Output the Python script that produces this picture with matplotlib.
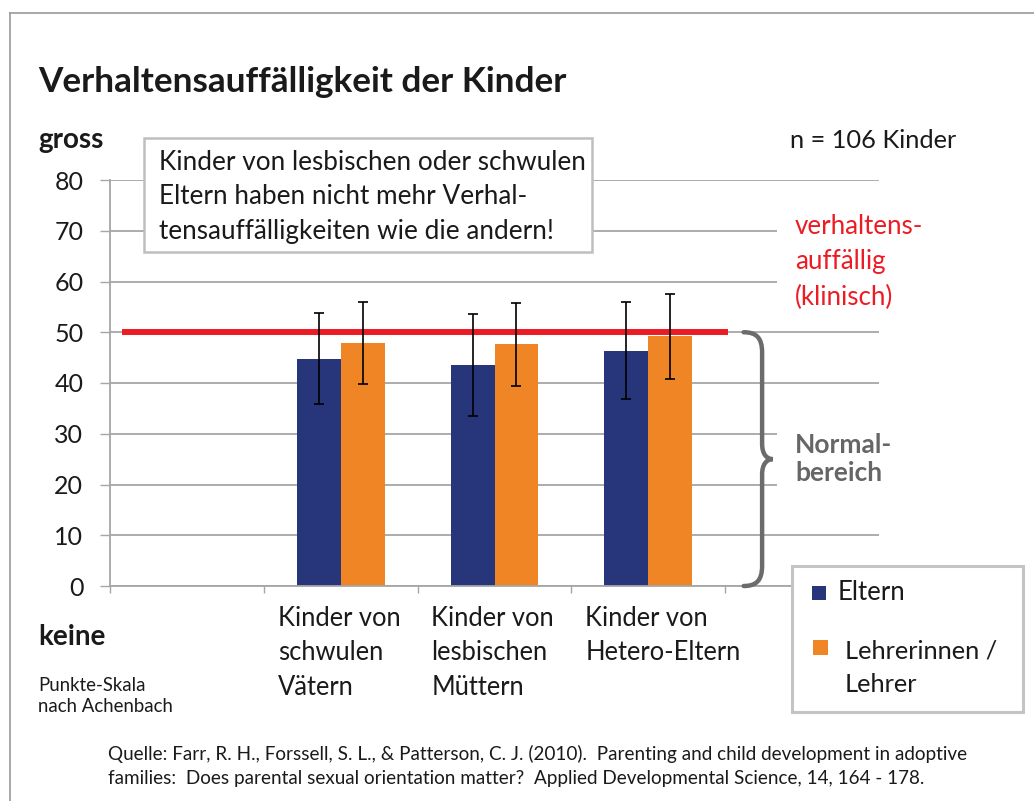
import numpy as np
import matplotlib.pyplot as plt
from matplotlib.patches import Rectangle, PathPatch
from matplotlib.path import Path
from matplotlib.lines import Line2D
from matplotlib.transforms import blended_transform_factory

plt.rcParams['font.family'] = ['Lato', 'DejaVu Sans']

# Daten (Punkte-Skala nach Achenbach)
kategorien = ['', 'Kinder von\nschwulen\nVätern', 'Kinder von\nlesbischen\nMüttern',
              'Kinder von\nHetero-Eltern', '']
eltern = [44.8, 43.5, 46.4]
eltern_err = [9.0, 10.0, 9.5]
lehrer = [47.9, 47.6, 49.2]
lehrer_err = [8.0, 8.2, 8.4]
grenze_klinisch = 50
y_ticks = [0, 10, 20, 30, 40, 50, 60, 70, 80]

NAVY = '#27367a'
ORANGE = '#f08526'
ROT = '#ed1c24'
GRAU = '#a6a6a6'
TEXT = '#1a1a1a'

W, H = 1034, 801
fig = plt.figure(figsize=(W / 100, H / 100), dpi=100)


def fx(px):
    return px / W


def fy(py):
    return 1 - py / H


ax = fig.add_axes([fx(110), fy(586), fx(879) - fx(110), fy(180) - fy(586)])

x = np.arange(1, 4)
breite = 0.285
ax.bar(x - breite / 2, eltern, breite, color=NAVY, zorder=2)
ax.bar(x + breite / 2, lehrer, breite, color=ORANGE, zorder=2)
ax.errorbar(x - breite / 2, eltern, yerr=eltern_err, fmt='none', ecolor='black',
            elinewidth=1.2, capsize=3.5, capthick=1.2, zorder=4)
ax.errorbar(x + breite / 2, lehrer, yerr=lehrer_err, fmt='none', ecolor='black',
            elinewidth=1.2, capsize=3.5, capthick=1.2, zorder=4)

# klinische Grenze
ax.plot([-0.42, 3.52], [grenze_klinisch, grenze_klinisch], color=ROT, lw=4.3,
        solid_capstyle='butt', zorder=3, clip_on=False)

ax.set_xlim(-0.5, len(kategorien) - 0.5)
ax.set_ylim(0, 80)
ax.set_yticks(y_ticks)
ax.set_yticklabels([str(v) for v in y_ticks], fontsize=18, color=TEXT)
ax.set_xticks(np.arange(len(kategorien) + 1) - 0.5)
ax.set_xticklabels([])
ax.yaxis.grid(True, color=GRAU, lw=1.3)
ax.set_axisbelow(True)
for s in ['top', 'right']:
    ax.spines[s].set_visible(False)
for s in ['left', 'bottom']:
    ax.spines[s].set_color(GRAU)
    ax.spines[s].set_linewidth(1.3)
ax.tick_params(axis='y', length=7.2, width=1.0, color=GRAU, pad=12)
ax.tick_params(axis='x', length=5, width=1.0, color=GRAU)

# Kategorienbeschriftung (linksbündig)
trans = blended_transform_factory(ax.transData, fig.transFigure)
for i, lab in enumerate(kategorien):
    if lab:
        ax.text(i - 0.5 + 0.09, fy(606), lab, transform=trans, ha='left', va='top',
                fontsize=18.4, color=TEXT, linespacing=1.47)

# geschweifte Klammer "Normalbereich"
verts = [(3.62, 50), (3.70, 50), (3.74, 49), (3.74, 46),
         (3.74, 28),
         (3.74, 26), (3.77, 25), (3.81, 25),
         (3.77, 25), (3.74, 24), (3.74, 22),
         (3.74, 4),
         (3.74, 1), (3.70, 0), (3.62, 0)]
codes = [Path.MOVETO, Path.CURVE4, Path.CURVE4, Path.CURVE4,
         Path.LINETO,
         Path.CURVE4, Path.CURVE4, Path.CURVE4,
         Path.CURVE4, Path.CURVE4, Path.CURVE4,
         Path.LINETO,
         Path.CURVE4, Path.CURVE4, Path.CURVE4]
ax.add_patch(PathPatch(Path(verts, codes), fill=False, ec='#6b6b6b', lw=3.2,
                       capstyle='round', clip_on=False, zorder=5))

# Rahmen der Folie
fig.add_artist(Line2D([fx(10), fx(10)], [fy(13), 0], color='#9a9a9a', lw=1.2))
fig.add_artist(Line2D([fx(10), 1], [fy(13), fy(13)], color='#9a9a9a', lw=1.2))

# weisse Flaechen hinter den Texten rechts
fig.add_artist(Rectangle((fx(777), fy(300)), fx(110), fy(212) - fy(300),
                         transform=fig.transFigure, fc='white', ec='none'))
fig.add_artist(Rectangle((fx(777), fy(500)), fx(110), fy(420) - fy(500),
                         transform=fig.transFigure, fc='white', ec='none'))

# Kasten mit Aussage
fig.add_artist(Rectangle((fx(144), fy(252)), fx(592) - fx(144), fy(138) - fy(252),
                         transform=fig.transFigure, fc='white', ec='#bfbfbf', lw=1.8))
fig.text(fx(159), fy(197), 'Kinder von lesbischen oder schwulen\nEltern haben nicht mehr Verhal-\n'
         'tensauffälligkeiten wie die andern!', ha='left', va='center', fontsize=18.8,
         color=TEXT, linespacing=1.5)

# Titel und Beschriftungen
fig.text(fx(38), fy(82), 'Verhaltensauffälligkeit der Kinder', ha='left', va='center',
         fontsize=25.3, fontweight='bold', color=TEXT)
fig.text(fx(38), fy(140), 'gross', ha='left', va='center', fontsize=20,
         fontweight='bold', color=TEXT)
fig.text(fx(38), fy(637), 'keine', ha='left', va='center', fontsize=20,
         fontweight='bold', color=TEXT)
fig.text(fx(38), fy(696), 'Punkte-Skala\nnach Achenbach', ha='left', va='center',
         fontsize=13.4, color=TEXT, linespacing=1.3)
fig.text(fx(790), fy(141), 'n = 106 Kinder', ha='left', va='center', fontsize=18.3,
         color=TEXT)
fig.text(fx(795), fy(262), 'verhaltens-\nauffällig\n(klinisch)', ha='left', va='center',
         fontsize=18.6, color=ROT, linespacing=1.5)
fig.text(fx(795), fy(459), 'Normal-\nbereich', ha='left', va='center', fontsize=19,
         fontweight='bold', color='#666666', linespacing=1.2)

# Legende
fig.add_artist(Rectangle((fx(792), fy(712)), fx(1023) - fx(792), fy(566) - fy(712),
                         transform=fig.transFigure, fc='white', ec='#c4c4c4', lw=2.2))
fig.add_artist(Rectangle((fx(812), fy(600)), fx(14), fy(586) - fy(600),
                         transform=fig.transFigure, fc=NAVY, ec='none'))
fig.add_artist(Rectangle((fx(813), fy(655)), fx(15), fy(640) - fy(655),
                         transform=fig.transFigure, fc=ORANGE, ec='none'))
fig.text(fx(838), fy(593), 'Eltern', ha='left', va='center', fontsize=18.5, color=TEXT)
fig.text(fx(845), fy(668), 'Lehrerinnen /\nLehrer', ha='left', va='center',
         fontsize=18.3, color=TEXT, linespacing=1.55)

# Quelle
fig.text(fx(108), fy(766), 'Quelle: Farr, R. H., Forssell, S. L., & Patterson, C. J. (2010).  '
         'Parenting and child development in adoptive\nfamilies:  Does parental sexual '
         'orientation matter?  Applied Developmental Science, 14, 164 - 178.',
         ha='left', va='center', fontsize=13.6, color=TEXT, linespacing=1.5)

fig.savefig('out.png', dpi=100, facecolor='white')
